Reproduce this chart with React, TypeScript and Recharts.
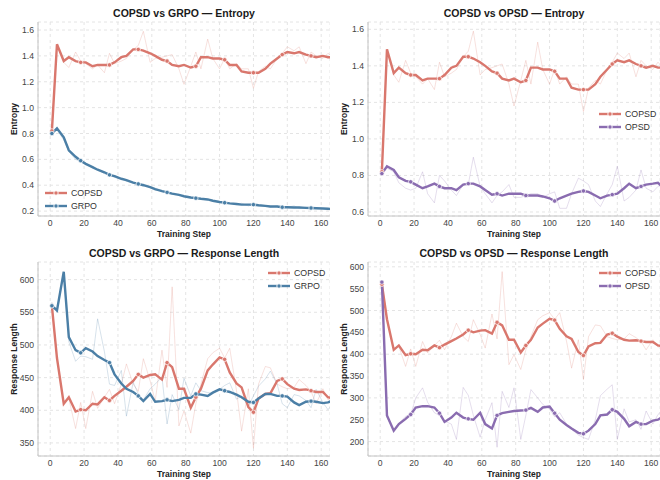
import React from "react";
import { LineChart, Line, XAxis, YAxis, CartesianGrid } from "recharts";

// training steps (logged roughly every 3-4 steps)
const STEPS = [1, 4, 8, 11, 15, 18, 21, 25, 28, 32, 35, 38, 42, 45, 49, 52, 55, 59, 62, 66, 69, 72, 76, 79, 83, 86, 89, 93, 96, 100, 103, 106, 110, 113, 117, 120, 123, 127, 130, 134, 137, 140, 144, 147, 151, 154, 157, 161, 164, 167];

const COPSD_ENT_SMOOTH = [0.82, 1.49, 1.36, 1.39, 1.36, 1.35, 1.35, 1.32, 1.33, 1.33, 1.33, 1.35, 1.39, 1.40, 1.45, 1.45, 1.44, 1.42, 1.40, 1.37, 1.36, 1.33, 1.32, 1.33, 1.31, 1.32, 1.39, 1.39, 1.38, 1.38, 1.37, 1.33, 1.33, 1.28, 1.27, 1.27, 1.27, 1.30, 1.34, 1.38, 1.41, 1.43, 1.42, 1.43, 1.41, 1.40, 1.39, 1.40, 1.39, 1.39];
const COPSD_ENT_RAW = [0.82, 1.49, 1.35, 1.31, 1.43, 1.36, 1.34, 1.30, 1.33, 1.27, 1.42, 1.34, 1.36, 1.38, 1.45, 1.48, 1.59, 1.35, 1.38, 1.39, 1.40, 1.41, 1.30, 1.18, 1.32, 1.43, 1.30, 1.53, 1.38, 1.30, 1.38, 1.30, 1.34, 1.30, 1.30, 1.15, 1.28, 1.32, 1.30, 1.38, 1.42, 1.47, 1.44, 1.47, 1.34, 1.43, 1.40, 1.38, 1.42, 1.39];
const GRPO_ENT_SMOOTH = [0.80, 0.84, 0.77, 0.67, 0.62, 0.59, 0.565, 0.54, 0.52, 0.50, 0.48, 0.47, 0.45, 0.44, 0.42, 0.41, 0.40, 0.385, 0.37, 0.355, 0.345, 0.335, 0.325, 0.315, 0.305, 0.30, 0.295, 0.29, 0.28, 0.27, 0.265, 0.26, 0.255, 0.25, 0.25, 0.25, 0.245, 0.24, 0.235, 0.235, 0.23, 0.23, 0.228, 0.228, 0.225, 0.224, 0.222, 0.22, 0.218, 0.215];
const GRPO_ENT_RAW = [0.80, 0.83, 0.75, 0.66, 0.60, 0.58, 0.57, 0.53, 0.52, 0.49, 0.48, 0.46, 0.45, 0.43, 0.42, 0.40, 0.41, 0.38, 0.36, 0.36, 0.34, 0.33, 0.33, 0.31, 0.30, 0.30, 0.29, 0.29, 0.28, 0.27, 0.26, 0.26, 0.25, 0.26, 0.24, 0.25, 0.24, 0.24, 0.23, 0.24, 0.23, 0.23, 0.24, 0.22, 0.23, 0.22, 0.22, 0.22, 0.21, 0.22];
const OPSD_ENT_SMOOTH = [0.81, 0.85, 0.83, 0.79, 0.77, 0.765, 0.75, 0.73, 0.74, 0.755, 0.74, 0.73, 0.73, 0.72, 0.75, 0.755, 0.755, 0.74, 0.72, 0.695, 0.70, 0.69, 0.70, 0.70, 0.70, 0.69, 0.69, 0.69, 0.685, 0.675, 0.66, 0.675, 0.69, 0.70, 0.71, 0.715, 0.71, 0.69, 0.675, 0.69, 0.695, 0.70, 0.73, 0.755, 0.73, 0.74, 0.75, 0.755, 0.76, 0.735];
const OPSD_ENT_RAW = [0.81, 0.84, 0.82, 0.76, 0.73, 0.72, 0.73, 0.82, 0.70, 0.65, 0.80, 0.77, 0.72, 0.69, 0.75, 0.75, 0.90, 0.74, 0.70, 0.65, 0.69, 0.71, 0.75, 0.68, 0.68, 0.69, 0.70, 0.70, 0.68, 0.70, 0.71, 0.62, 0.62, 0.70, 0.785, 0.77, 0.75, 0.66, 0.63, 0.70, 0.75, 0.85, 0.66, 0.68, 0.72, 0.83, 0.73, 0.71, 0.74, 0.76];

const COPSD_LEN_SMOOTH = [560, 480, 410, 420, 398, 401, 400, 410, 409, 420, 415, 422, 430, 436, 445, 455, 450, 454, 455, 447, 473, 466, 433, 433, 404, 420, 433, 461, 470, 481, 478, 458, 441, 435, 405, 397, 418, 425, 426, 445, 448, 440, 433, 431, 432, 430, 428, 428, 420, 418];
const COPSD_LEN_RAW = [565, 480, 410, 418, 372, 412, 372, 429, 403, 420, 432, 410, 440, 471, 440, 429, 479, 445, 414, 492, 435, 589, 376, 399, 365, 410, 440, 479, 488, 495, 480, 495, 430, 368, 433, 342, 440, 467, 465, 440, 436, 433, 435, 447, 438, 429, 410, 433, 416, 420];
const GRPO_LEN_SMOOTH = [560, 553, 612, 512, 492, 488, 495, 490, 483, 477, 473, 455, 441, 433, 428, 422, 414, 425, 413, 414, 416, 414, 416, 419, 419, 425, 424, 422, 427, 432, 430, 428, 424, 420, 413, 412, 418, 425, 425, 422, 422, 421, 412, 408, 413, 414, 413, 411, 412, 415];
const GRPO_LEN_RAW = [565, 550, 612, 505, 475, 483, 482, 478, 540, 490, 440, 438, 461, 391, 443, 425, 416, 433, 440, 451, 379, 424, 401, 449, 422, 442, 430, 427, 426, 432, 438, 442, 417, 422, 406, 422, 437, 448, 460, 440, 410, 404, 424, 422, 415, 404, 432, 412, 401, 410];
const OPSD_LEN_SMOOTH = [565, 260, 225, 240, 252, 262, 278, 281, 281, 278, 265, 245, 255, 266, 255, 252, 250, 266, 240, 230, 260, 265, 268, 270, 271, 272, 277, 268, 278, 280, 265, 250, 238, 230, 220, 218, 225, 240, 260, 262, 273, 268, 252, 235, 245, 240, 240, 248, 250, 258];
const OPSD_LEN_RAW = [565, 255, 225, 242, 258, 262, 300, 323, 290, 266, 260, 247, 240, 205, 324, 306, 260, 210, 250, 289, 187, 315, 278, 323, 205, 260, 319, 300, 285, 274, 257, 266, 240, 228, 215, 209, 205, 250, 305, 320, 330, 205, 275, 245, 250, 228, 270, 240, 262, 273];

const X_TICKS = [0, 20, 40, 60, 80, 100, 120, 140, 160];
const ENT_TICKS_A = [0.2, 0.4, 0.6, 0.8, 1.0, 1.2, 1.4, 1.6];
const ENT_TICKS_B = [0.6, 0.8, 1.0, 1.2, 1.4, 1.6];
const LEN_TICKS_A = [350, 400, 450, 500, 550, 600];
const LEN_TICKS_B = [200, 250, 300, 350, 400, 450, 500, 550, 600];

const COLORS: Record<string, string> = { COPSD: "#d9776d", GRPO: "#4b7fa6", OPSD: "#8a6cb0" };
const FONT = "'Liberation Sans', Arial, sans-serif";

type Series = { name: string; raw: number[]; smooth: number[] };

const makeDot = (color: string) => (p: any) =>
  p.index % 5 === 0 && p.cx != null ? (
    <circle key={`d${p.index}`} cx={p.cx} cy={p.cy} r={2.2} fill={color} stroke="#fff" strokeWidth={0.7} />
  ) : (
    <g key={`d${p.index}`} />
  );

function Panel({ left, top, title, yLabel, yDomain, yTicks, yFmt, series, legendX, legendY }: {
  left: number; top: number; title: string; yLabel: string; yDomain: [number, number]; yTicks: number[];
  yFmt: (v: number) => string; series: Series[]; legendX: number; legendY: number;
}) {
  const data = STEPS.map((s, i) => {
    const row: any = { step: s };
    series.forEach((se) => {
      row[se.name + "_raw"] = se.raw[i];
      row[se.name + "_smooth"] = se.smooth[i];
    });
    return row;
  });

  return (
    <div style={{ position: "absolute", left, top, width: 330, height: 240 }}>
      <LineChart width={330} height={240} data={data} margin={{ top: 22, right: 0, bottom: 0, left: 0 }}>
        <CartesianGrid stroke="#e4e4e4" strokeDasharray="3 3" />
        <XAxis
          type="number" dataKey="step" domain={[-7.2, 165.2]} allowDataOverflow ticks={X_TICKS}
          height={24} tickSize={4} tickMargin={0} tickLine={false}
          axisLine={{ stroke: "#c4c4c4" }}
          tick={{ fontSize: 8.6, fill: "#444", fontFamily: FONT }}
          label={{ value: "Training Step", position: "insideBottom", offset: 3, style: { fontSize: 8.5, fontWeight: 700, fill: "#222", fontFamily: FONT } }}
        />
        <YAxis
          type="number" domain={yDomain} allowDataOverflow ticks={yTicks} tickFormatter={yFmt}
          width={38} tickSize={4} tickMargin={0} tickLine={false}
          axisLine={{ stroke: "#c4c4c4" }}
          tick={{ fontSize: 8.6, fill: "#444", fontFamily: FONT }}
          label={{ value: yLabel, angle: -90, position: "insideLeft", offset: 14, style: { textAnchor: "middle", fontSize: 8.5, fontWeight: 700, fill: "#222", fontFamily: FONT } }}
        />
        {series.map((se) => (
          <Line key={se.name + "r"} type="linear" dataKey={se.name + "_raw"} stroke={COLORS[se.name]}
            strokeOpacity={0.25} strokeWidth={0.9} dot={false} isAnimationActive={false} />
        ))}
        {series.map((se) => (
          <Line key={se.name + "s"} type="linear" dataKey={se.name + "_smooth"} stroke={COLORS[se.name]}
            strokeWidth={2.4} dot={makeDot(COLORS[se.name])} activeDot={false} isAnimationActive={false} />
        ))}
      </LineChart>
      <div style={{ position: "absolute", left: 38, width: 292, top: 7, textAlign: "center", fontFamily: FONT, fontWeight: 700, fontSize: 10.5, color: "#1a1a1a" }}>
        {title}
      </div>
      <div style={{ position: "absolute", left: legendX, top: legendY, fontFamily: FONT, fontSize: 8.8, color: "#333" }}>
        {series.map((se) => (
          <div key={se.name} style={{ display: "flex", alignItems: "center", height: 12.5 }}>
            <svg width={22} height={8} style={{ marginRight: 4 }}>
              <line x1={0} y1={4} x2={22} y2={4} stroke={COLORS[se.name]} strokeWidth={2.4} />
              <circle cx={11} cy={4} r={2.2} fill={COLORS[se.name]} stroke="#fff" strokeWidth={0.9} />
            </svg>
            <span>{se.name}</span>
          </div>
        ))}
      </div>
    </div>
  );
}

const f1 = (v: number) => v.toFixed(1);
const f0 = (v: number) => String(v);

export default function App() {
  const copsdEnt = { name: "COPSD", raw: COPSD_ENT_RAW, smooth: COPSD_ENT_SMOOTH };
  const copsdLen = { name: "COPSD", raw: COPSD_LEN_RAW, smooth: COPSD_LEN_SMOOTH };
  return (
    <div style={{ position: "fixed", left: 0, top: 0, width: 660, height: 480, background: "#fff" }}>
      <Panel left={0} top={0} title="COPSD vs GRPO — Entropy" yLabel="Entropy" yDomain={[0.162, 1.662]}
        yTicks={ENT_TICKS_A} yFmt={f1} legendX={45} legendY={187}
        series={[copsdEnt, { name: "GRPO", raw: GRPO_ENT_RAW, smooth: GRPO_ENT_SMOOTH }]} />
      <Panel left={330} top={0} title="COPSD vs OPSD — Entropy" yLabel="Entropy" yDomain={[0.578, 1.64]}
        yTicks={ENT_TICKS_B} yFmt={f1} legendX={269} legendY={108}
        series={[copsdEnt, { name: "OPSD", raw: OPSD_ENT_RAW, smooth: OPSD_ENT_SMOOTH }]} />
      <Panel left={0} top={240} title="COPSD vs GRPO — Response Length" yLabel="Response Length" yDomain={[330, 627]}
        yTicks={LEN_TICKS_A} yFmt={f0} legendX={268} legendY={27}
        series={[copsdLen, { name: "GRPO", raw: GRPO_LEN_RAW, smooth: GRPO_LEN_SMOOTH }]} />
      <Panel left={330} top={240} title="COPSD vs OPSD — Response Length" yLabel="Response Length" yDomain={[167, 611]}
        yTicks={LEN_TICKS_B} yFmt={f0} legendX={269} legendY={27}
        series={[copsdLen, { name: "OPSD", raw: OPSD_LEN_RAW, smooth: OPSD_LEN_SMOOTH }]} />
    </div>
  );
}
